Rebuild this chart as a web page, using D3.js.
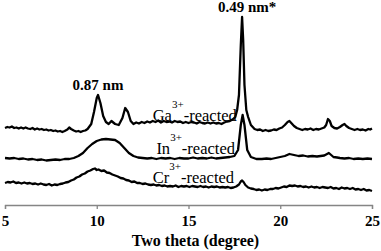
<!DOCTYPE html>
<html>
<head>
<meta charset="utf-8">
<script src="https://cdn.jsdelivr.net/npm/d3@7"></script>
<style>
  body { margin: 0; background: #fff; }
  svg text { font-family: "Liberation Serif", "Times New Roman", serif; }
</style>
</head>
<body>
<div id="chart"></div>
<script>
// XRD patterns, intensities in arbitrary units (already offset per sample)
var gaX = [5.0,5.125,5.25,5.375,5.5,5.625,5.75,5.875,6.0,6.125,6.25,6.375,6.5,6.625,6.75,6.875,7.0,7.125,7.25,7.375,7.5,7.625,7.75,7.875,8.0,8.125,8.25,8.4,8.5,8.6,8.75,8.875,9.0,9.125,9.25,9.375,9.5,9.7,9.85,10.0,10.07,10.2,10.35,10.5,10.65,10.8,11.0,11.2,11.4,11.55,11.7,11.85,12.0,12.15,12.3,12.45,12.6,12.75,12.9,13.05,13.2,13.35,13.5,13.65,13.8,13.95,14.1,14.25,14.4,14.55,14.7,14.85,15.0,15.15,15.3,15.45,15.6,15.75,15.9,16.05,16.2,16.35,16.5,16.65,16.8,16.95,17.1,17.25,17.4,17.55,17.65,17.75,17.85,17.92,17.98,18.05,18.15,18.25,18.4,18.6,18.75,18.9,19.05,19.2,19.35,19.5,19.65,19.8,19.95,20.1,20.25,20.4,20.5,20.6,20.75,20.9,21.05,21.2,21.35,21.5,21.65,21.8,21.95,22.1,22.25,22.4,22.5,22.6,22.7,22.8,22.95,23.1,23.25,23.4,23.5,23.6,23.75,23.9,24.05,24.2,24.35,24.5,24.65,24.8,24.9,25.0];
var gaY = [77,78,77.5,78.5,77,77.5,76.5,77.5,76.5,77.5,76.5,76,77,75.5,76.5,75.5,76,75,75.5,74.5,75,74,74.5,73.5,74,73,74,75.5,77.5,76,74.5,73.5,74,73,74,74.5,76,81,93,107,110,102,89,83,81,84,81,80,87,97,93,84,81,82.5,81.5,83,82,83.5,82.5,84,83,84.5,82.5,84,83,83.5,82.5,84,83,83.5,82,83,82,83,82.5,81.5,83,82,81.5,82.5,81.5,82.5,81.5,82,81,82.5,83.5,84,85.5,88,95,110,160,188,165,120,95,88,80,76,75,75.5,74,75,74,74.5,75.5,75,76.5,77.5,80,83,84,82,79,77,76,75,76,75.5,76.5,75,76,75.5,76.5,77.5,80,86,84,79,77,76.5,78,80,81,79,77,76,75,76,75,75.5,74.5,76,75.5,76.5];

var inX = [5.0,5.25,5.5,5.75,6.0,6.25,6.5,6.75,7.0,7.25,7.5,7.75,8.0,8.25,8.5,8.75,9.0,9.25,9.5,9.75,10.0,10.25,10.5,10.75,11.0,11.25,11.5,11.75,12.0,12.25,12.5,12.75,13.0,13.25,13.5,13.75,14.0,14.25,14.5,14.75,15.0,15.25,15.5,15.75,16.0,16.25,16.5,16.75,17.0,17.25,17.5,17.7,17.85,17.95,18.05,18.2,18.4,18.7,19.0,19.25,19.5,19.75,20.0,20.25,20.5,20.75,21.0,21.25,21.5,21.75,22.0,22.2,22.4,22.65,22.9,23.1,23.25,23.5,23.75,24.0,24.25,24.5,24.75,25.0];
var inY = [47,46.5,47,46,46.5,45.5,46,45,45.5,44.5,45,45.5,45,46,46,47,49,52,57,61,64,65.5,66,65.5,65,62,57,52,49,47.5,47,46.5,47,46,47,46.5,47,46,47,46.5,46.5,47.5,46.5,47,46.5,47.5,46.5,47,47.5,48,49,55,80,90,80,55,48,46,46,46.5,46,47,48,49,51,50,49,49.5,48.5,49,48.5,49,49.5,52,48,47.5,47,46.5,47,46,46.5,46,46.5,46];

var crX = [5.0,5.15,5.3,5.45,5.6,5.75,5.9,6.05,6.2,6.35,6.5,6.65,6.8,6.95,7.1,7.25,7.4,7.55,7.7,7.85,8.0,8.15,8.3,8.45,8.6,8.75,8.9,9.05,9.2,9.35,9.5,9.65,9.8,9.9,10.0,10.1,10.25,10.4,10.55,10.7,10.85,11.0,11.15,11.3,11.45,11.6,11.75,11.9,12.05,12.2,12.35,12.5,12.65,12.8,12.95,13.1,13.25,13.4,13.55,13.7,13.85,14.0,14.15,14.3,14.45,14.6,14.75,14.9,15.05,15.2,15.35,15.5,15.65,15.8,15.95,16.1,16.25,16.4,16.55,16.7,16.85,17.0,17.15,17.3,17.45,17.6,17.75,17.85,17.92,18.0,18.1,18.25,18.4,18.55,18.7,18.85,19.0,19.15,19.3,19.45,19.6,19.75,19.9,20.05,20.2,20.35,20.5,20.65,20.8,20.95,21.1,21.25,21.4,21.55,21.7,21.85,22.0,22.15,22.3,22.45,22.6,22.75,22.9,23.05,23.2,23.35,23.5,23.65,23.8,23.95,24.1,24.25,24.4,24.55,24.7,24.85,25.0];
var crY = [22,23,22.5,23.5,22,22.5,21.5,22.5,21.5,22,21,21.5,20.5,21.5,20.5,20,21,19.5,20.5,20,21,21.5,22.5,23,24.5,25.5,27.5,28.5,30.5,31.5,33.5,34.5,36,36.5,35,35.5,34,34.5,32.5,32,30.5,29.5,28.5,27,26.5,25,24.5,23,23.5,22,22,21,21.5,20.5,20,20.5,19.5,20,19,19.5,18.5,19,18.5,19.5,18,19,18.5,19,18,19,18.5,18,19,18,18.5,17.5,18.5,18,18.5,17.5,18,17.5,18,17,17.5,18.5,20.5,23.5,24.5,23,20,17.5,16.5,16,15,15.5,14.5,15.5,15,16,16,17,16.5,17.5,18.5,18,19.5,19,19.5,18.5,19,18,18.5,17.5,18.5,17.5,18,17,18,17.5,17,18,16.5,17,16,17.5,16.5,17,16,17,15.5,16,15,16,14.5,15,14];

var xTicks = [5, 10, 15, 20, 25];
var sampleIons = ["Ga", "In", "Cr"];

var width = 381, height = 251;
var svg = d3.select("#chart").append("svg")
  .attr("width", width)
  .attr("height", height);

var x = d3.scaleLinear().domain([5, 25]).range([5, 372]);
var y = d3.scaleLinear().domain([0, 200]).range([205, 5]);

// x axis
var xAxis = svg.append("g")
  .attr("transform", "translate(0," + 205 + ")")
  .call(d3.axisBottom(x).tickValues(xTicks).tickSize(4).tickPadding(6));
xAxis.select(".domain").attr("stroke", "#858585").attr("stroke-width", 1.3);
xAxis.selectAll(".tick line").attr("stroke", "#858585").attr("stroke-width", 1.3);
xAxis.selectAll(".tick text")
  .attr("font-family", "Liberation Serif, Times New Roman, serif")
  .attr("font-size", 15)
  .attr("font-weight", "bold")
  .attr("fill", "#000");

svg.append("text")
  .attr("x", (x(5) + x(25)) / 2 + 7)
  .attr("y", 246)
  .attr("text-anchor", "middle")
  .attr("font-size", 16)
  .attr("font-weight", "bold")
  .text("Two theta (degree)");

// lines
var line = d3.line()
  .x(function(d) { return x(d[0]); })
  .y(function(d) { return y(d[1]); });

var series = [
  { xs: gaX, ys: gaY },
  { xs: inX, ys: inY },
  { xs: crX, ys: crY }
];

series.forEach(function(s) {
  var pts = s.xs.map(function(v, i) { return [v, s.ys[i]]; });
  svg.append("path")
    .datum(pts)
    .attr("fill", "none")
    .attr("stroke", "#000")
    .attr("stroke-width", 2.3)
    .attr("stroke-linejoin", "round")
    .attr("d", line);
});

// sample labels
var labelPos = [[13.05, 84.5], [13.25, 51.5], [13.05, 22]];
sampleIons.forEach(function(ion, i) {
  var t = svg.append("text")
    .attr("x", x(labelPos[i][0]))
    .attr("y", y(labelPos[i][1]))
    .attr("font-size", 16.5);
  t.append("tspan").text(ion);
  t.append("tspan").attr("dy", -13).attr("font-size", 11).text("3+");
  t.append("tspan").attr("dy", 13).text("-reacted");
});

// peak annotations
svg.append("text")
  .attr("x", x(10.07)).attr("y", 90)
  .attr("text-anchor", "middle")
  .attr("font-size", 15).attr("font-weight", "bold")
  .text("0.87 nm");

svg.append("text")
  .attr("x", x(17.92) + 5).attr("y", 12)
  .attr("text-anchor", "middle")
  .attr("font-size", 15).attr("font-weight", "bold")
  .text("0.49 nm*");
</script>
</body>
</html>
